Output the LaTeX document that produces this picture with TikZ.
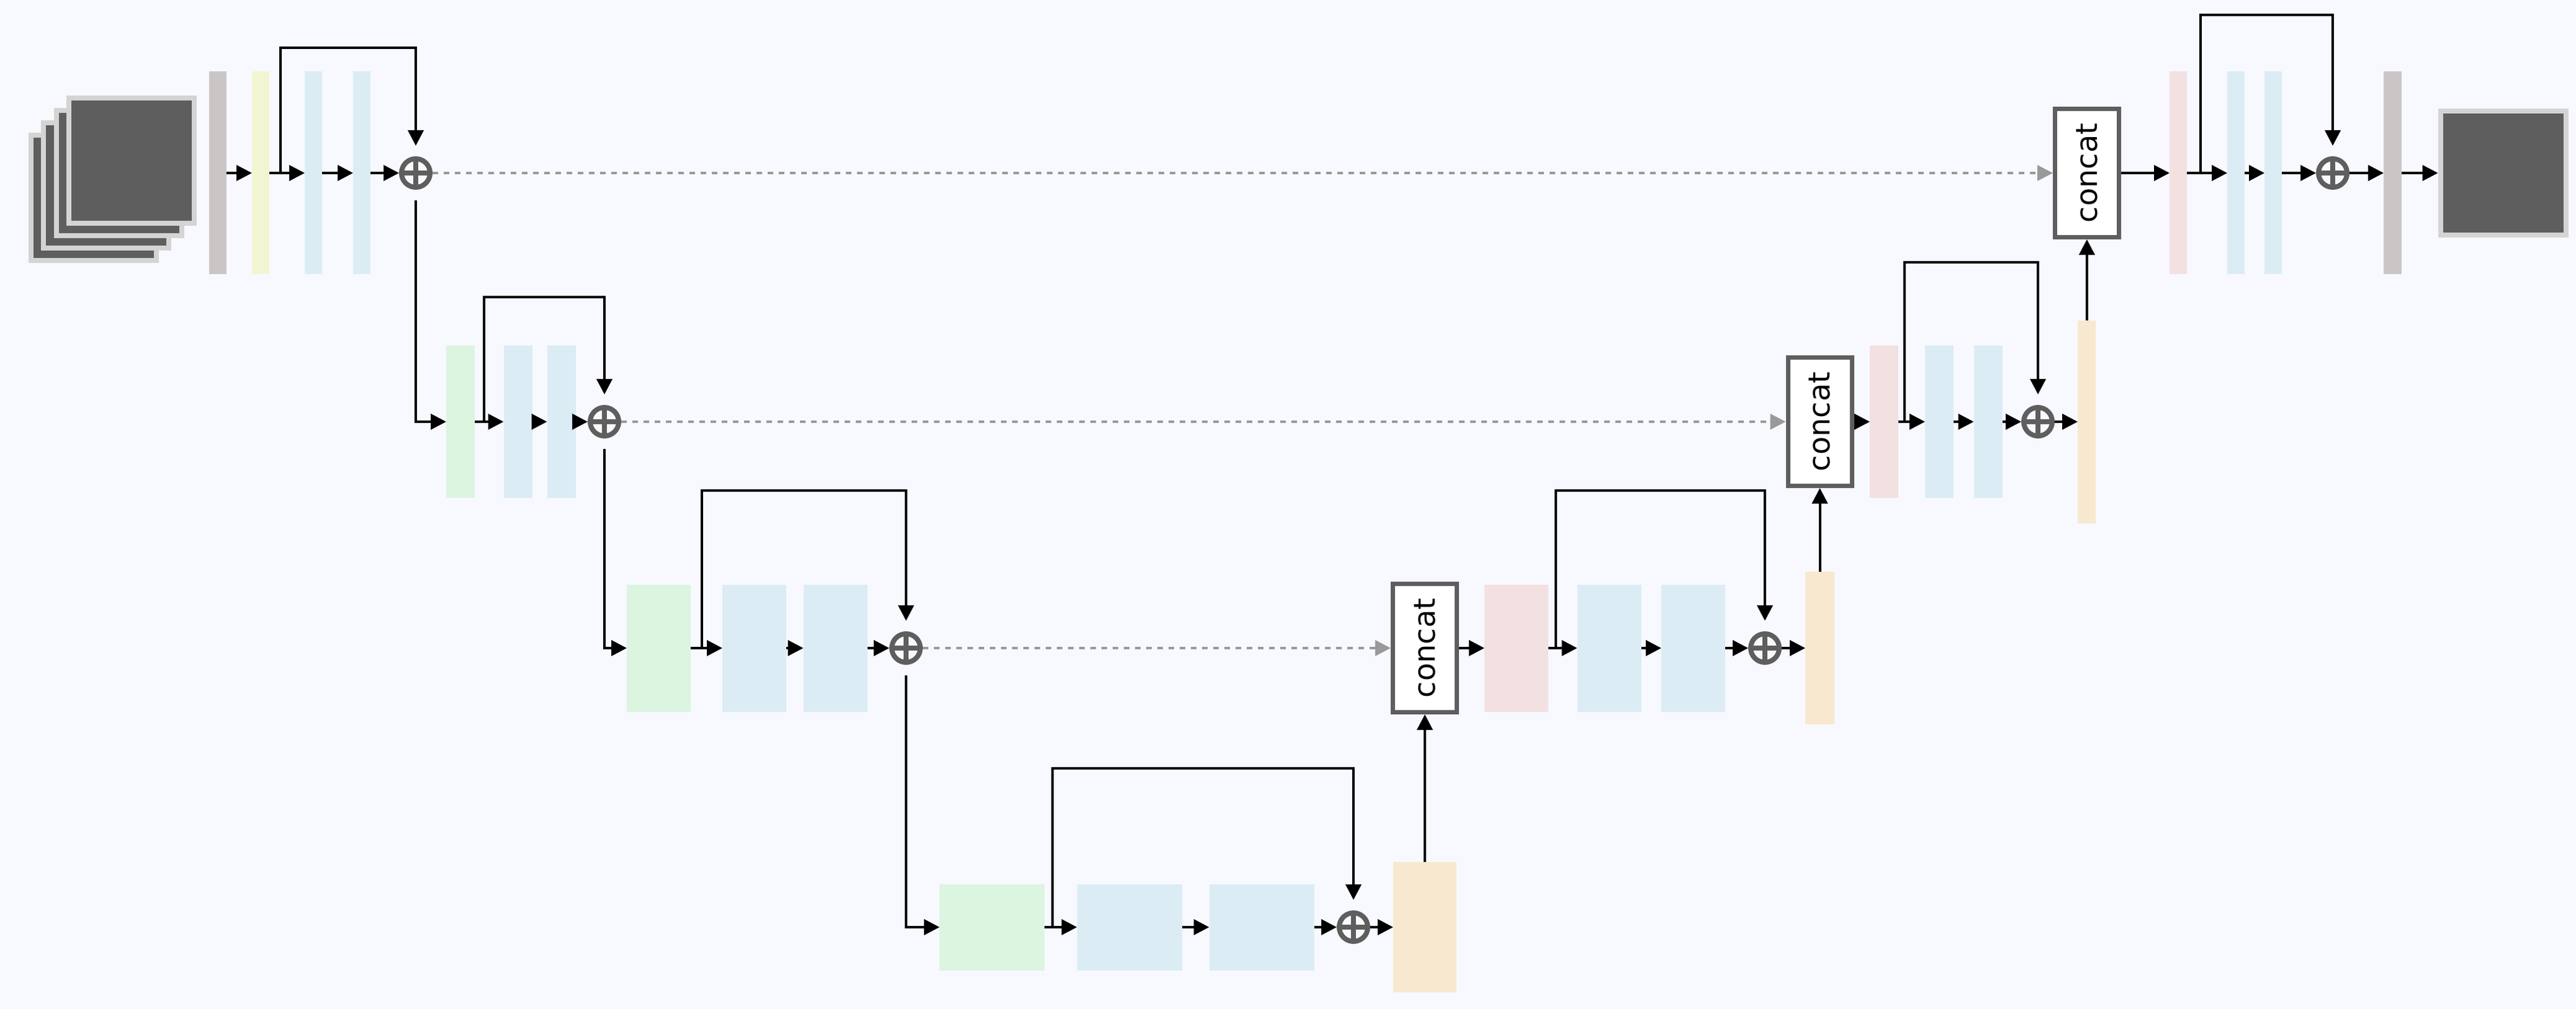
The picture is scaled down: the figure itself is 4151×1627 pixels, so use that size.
\documentclass[tikz,border=0pt]{standalone}
\usepackage{fontspec}
\newfontfamily\catfont{DejaVu Sans}
\usetikzlibrary{arrows.meta}
\definecolor{bgcol}{HTML}{F7F9FE}
\definecolor{normgray}{HTML}{CBC6C6}
\definecolor{inyellow}{HTML}{F2F5D1}
\definecolor{convblue}{HTML}{DBECF4}
\definecolor{downgreen}{HTML}{DBF5E0}
\definecolor{uppink}{HTML}{F3E0E1}
\definecolor{uporange}{HTML}{F7E8CF}
\definecolor{opgray}{HTML}{5E5E5E}
\definecolor{framegray}{HTML}{D4D4D4}
\definecolor{dashgray}{HTML}{999999}
\tikzset{
	blk/.style={rectangle,inner sep=0pt,outer sep=0pt,draw=none},
	normbar/.style={blk,fill=normgray},
	inbar/.style={blk,fill=inyellow},
	convbar/.style={blk,fill=convblue},
	downbar/.style={blk,fill=downgreen},
	upbar/.style={blk,fill=uppink},
	outbar/.style={blk,fill=uporange},
	addop/.style={circle,draw=opgray,line width=0.08cm,inner sep=0pt,minimum size=0.46cm,
		path picture={\draw[opgray,line width=0.08cm] (path picture bounding box.west) -- (path picture bounding box.east) (path picture bounding box.north) -- (path picture bounding box.south);}},
	catbox/.style={rectangle,draw=opgray,line width=0.07cm,fill=white,inner sep=0pt,minimum width=1.03cm,minimum height=2.07cm,font=\catfont\fontsize{13.6}{16}\selectfont},
	imgframe/.style={draw=framegray,fill=opgray,line width=0.08cm},
	flow/.style={line width=0.04cm,-{Triangle[length=0.25cm,width=0.25cm]}},
	skipto/.style={flow,shorten >=0.17cm},
	skipfrom/.style={flow,shorten <=0.17cm},
	bridge/.style={dashgray,line width=0.035cm,dash pattern=on 0.09cm off 0.09cm,-{Triangle[length=0.25cm,width=0.25cm]}}
}
\begin{document}
\begin{tikzpicture}[x=0.1mm,y=-0.1mm]
	\fill[bgcol] (0,0) rectangle (4151,1627);
	\useasboundingbox (0,0) rectangle (4151,1627);
	\foreach \k in {0,...,3}
		\draw[imgframe] ({50+20.3*\k},{218-20*\k}) rectangle ++(202,202);
	\node[normbar,minimum width=0.28cm,minimum height=3.27cm] (nin) at (351,279) {};
	\node[inbar,minimum width=0.28cm,minimum height=3.27cm] (pin) at (420,279) {};
	\node[convbar,minimum width=0.28cm,minimum height=3.27cm] (c1a) at (505,279) {};
	\node[convbar,minimum width=0.28cm,minimum height=3.27cm] (c1b) at (583,279) {};
	\node[addop] (add1) at (670,279) {};
	\node[downbar,minimum width=0.46cm,minimum height=2.46cm] (d2) at (742,680) {};
	\node[convbar,minimum width=0.46cm,minimum height=2.46cm] (c2a) at (834.5,680) {};
	\node[convbar,minimum width=0.46cm,minimum height=2.46cm] (c2b) at (904.5,680) {};
	\node[addop] (add2) at (974,680) {};
	\node[downbar,minimum width=1.03cm,minimum height=2.05cm] (d3) at (1061.5,1045) {};
	\node[convbar,minimum width=1.03cm,minimum height=2.05cm] (c3a) at (1215.5,1045) {};
	\node[convbar,minimum width=1.03cm,minimum height=2.05cm] (c3b) at (1346,1045) {};
	\node[addop] (add3) at (1460,1045) {};
	\node[downbar,minimum width=1.69cm,minimum height=1.39cm] (d4) at (1598.5,1495) {};
	\node[convbar,minimum width=1.69cm,minimum height=1.39cm] (c4a) at (1820,1495) {};
	\node[convbar,minimum width=1.69cm,minimum height=1.39cm] (c4b) at (2033,1495) {};
	\node[addop] (add4) at (2181,1495) {};
	\node[outbar,minimum width=1.02cm,minimum height=2.10cm] (u4) at (2296,1495) {};
	\node[catbox] (cat3) at (2296,1045) {\rotatebox{90}{concat}};
	\node[upbar,minimum width=1.03cm,minimum height=2.05cm] (p3) at (2443.5,1045) {};
	\node[convbar,minimum width=1.03cm,minimum height=2.05cm] (e3a) at (2593,1045) {};
	\node[convbar,minimum width=1.03cm,minimum height=2.05cm] (e3b) at (2728.5,1045) {};
	\node[addop] (addr3) at (2844,1045) {};
	\node[outbar,minimum width=0.47cm,minimum height=2.46cm] (u3) at (2932.5,1045) {};
	\node[catbox] (cat2) at (2932.5,680) {\rotatebox{90}{concat}};
	\node[upbar,minimum width=0.46cm,minimum height=2.46cm] (p2) at (3036,680) {};
	\node[convbar,minimum width=0.46cm,minimum height=2.46cm] (e2a) at (3125,680) {};
	\node[convbar,minimum width=0.46cm,minimum height=2.46cm] (e2b) at (3203.5,680) {};
	\node[addop] (addr2) at (3284,680) {};
	\node[outbar,minimum width=0.29cm,minimum height=3.27cm] (u2) at (3362.5,680) {};
	\node[catbox] (cat1) at (3363,279) {\rotatebox{90}{concat}};
	\node[upbar,minimum width=0.28cm,minimum height=3.27cm] (p1) at (3510,279) {};
	\node[convbar,minimum width=0.28cm,minimum height=3.27cm] (e1a) at (3603,279) {};
	\node[convbar,minimum width=0.28cm,minimum height=3.27cm] (e1b) at (3663,279) {};
	\node[addop] (addr1) at (3759,279) {};
	\node[normbar,minimum width=0.29cm,minimum height=3.27cm] (nout) at (3855.5,279) {};
	\node[imgframe,rectangle,inner sep=0pt,minimum width=2.02cm,minimum height=2.00cm] (outimg) at (4033.5,279) {};
	\coordinate (k1) at (452,279);
	\coordinate (k2) at (780,680);
	\coordinate (k3) at (1131,1045);
	\coordinate (k4) at (1696,1495);
	\coordinate (kr3) at (2507,1045);
	\coordinate (kr2) at (3069,680);
	\coordinate (kr1) at (3546,279);
	\draw[flow] (nin) -- (pin);
	\draw[flow] (pin) -- (c1a);
	\draw[flow] (c1a) -- (c1b);
	\draw[flow] (c1b) -- (add1);
	\draw[skipto] (k1) -- (k1 |- 0,77) -| (add1.north);
	\draw[skipfrom] (add1.south) |- (d2.west);
	\draw[flow] (d2) -- (c2a);
	\draw[flow] (c2a) -- (c2b);
	\draw[flow] (c2b) -- (add2);
	\draw[skipto] (k2) -- (k2 |- 0,479) -| (add2.north);
	\draw[skipfrom] (add2.south) |- (d3.west);
	\draw[flow] (d3) -- (c3a);
	\draw[flow] (c3a) -- (c3b);
	\draw[flow] (c3b) -- (add3);
	\draw[skipto] (k3) -- (k3 |- 0,791) -| (add3.north);
	\draw[skipfrom] (add3.south) |- (d4.west);
	\draw[flow] (d4) -- (c4a);
	\draw[flow] (c4a) -- (c4b);
	\draw[flow] (c4b) -- (add4);
	\draw[flow] (add4) -- (u4);
	\draw[skipto] (k4) -- (k4 |- 0,1239) -| (add4.north);
	\draw[flow] (u4) -- (cat3);
	\draw[flow] (cat3) -- (p3);
	\draw[flow] (p3) -- (e3a);
	\draw[flow] (e3a) -- (e3b);
	\draw[flow] (e3b) -- (addr3);
	\draw[flow] (addr3) -- (u3);
	\draw[skipto] (kr3) -- (kr3 |- 0,791) -| (addr3.north);
	\draw[flow] (u3) -- (cat2);
	\draw[flow] (cat2) -- (p2);
	\draw[flow] (p2) -- (e2a);
	\draw[flow] (e2a) -- (e2b);
	\draw[flow] (e2b) -- (addr2);
	\draw[flow] (addr2) -- (u2);
	\draw[skipto] (kr2) -- (kr2 |- 0,423) -| (addr2.north);
	\draw[flow] (u2) -- (cat1);
	\draw[flow] (cat1) -- (p1);
	\draw[flow] (p1) -- (e1a);
	\draw[flow] (e1a) -- (e1b);
	\draw[flow] (e1b) -- (addr1);
	\draw[flow] (addr1) -- (nout);
	\draw[flow] (nout) -- (outimg);
	\draw[skipto] (kr1) -- (kr1 |- 0,24) -| (addr1.north);
	\draw[bridge] (add1) -- (cat1);
	\draw[bridge] (add2) -- (cat2);
	\draw[bridge] (add3) -- (cat3);
\end{tikzpicture}
\end{document}
